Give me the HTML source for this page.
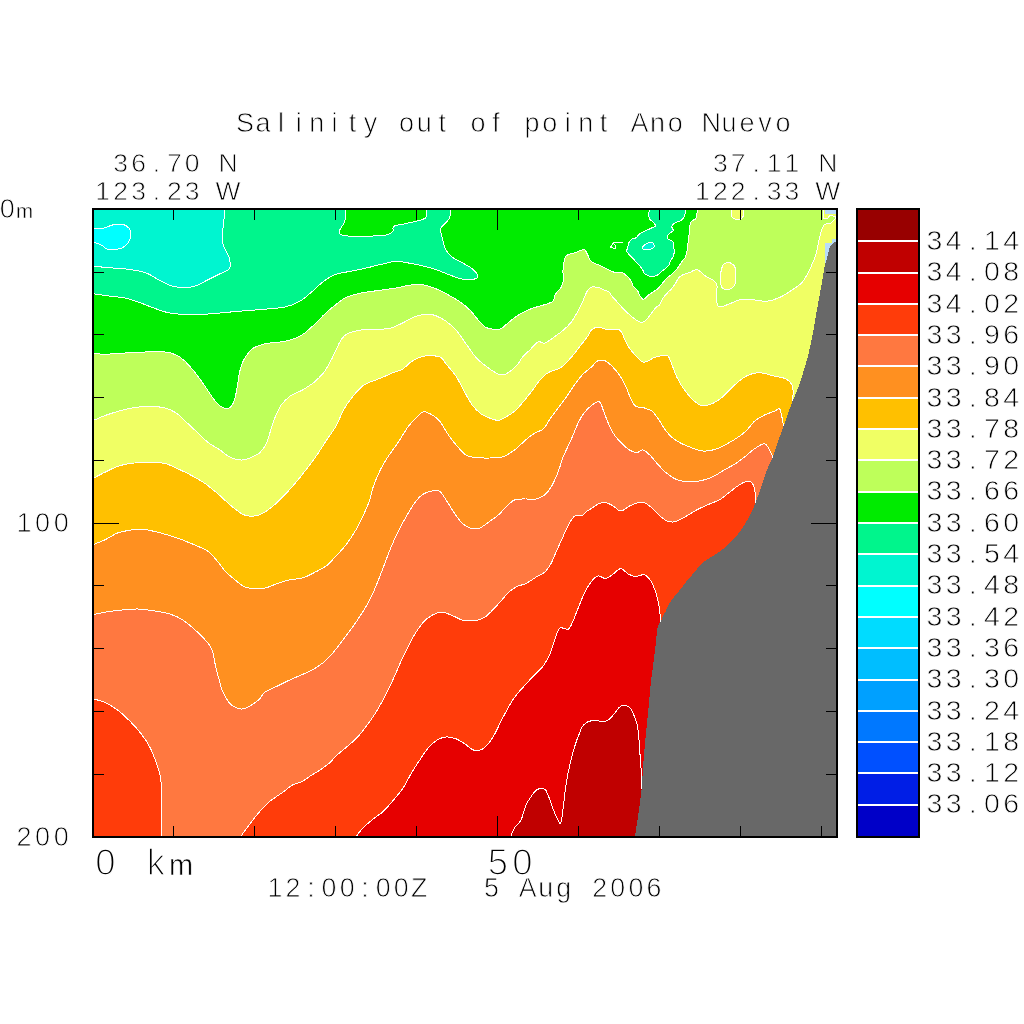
<!DOCTYPE html>
<html><head><meta charset="utf-8"><title>Salinity out of point Ano Nuevo</title>
<style>
html,body{margin:0;padding:0;background:#fff;}
body{width:1024px;height:1024px;overflow:hidden;}
svg{display:block;}
.t text{font-family:"Liberation Sans",sans-serif;fill:#000;text-anchor:middle;white-space:pre;stroke:#fff;stroke-width:0.8;}
</style></head><body>
<svg width="1024" height="1024" viewBox="0 0 1024 1024">
<rect width="1024" height="1024" fill="#fff"/>
<defs><clipPath id="pc"><rect x="94" y="210" width="742" height="626"/></clipPath></defs>
<rect x="94" y="210" width="742" height="626" fill="#00F5D0"/>
<g clip-path="url(#pc)" stroke="#fff" stroke-width="1" stroke-linejoin="round" shape-rendering="crispEdges">
<path d="M90.0 228.3C90.5 228.3 90.7 228.4 93.0 228.3C95.3 228.2 100.5 228.6 103.8 228.0C107.0 227.4 109.4 225.6 112.5 225.0C115.6 224.4 119.8 223.8 122.5 224.2C125.2 224.8 127.4 226.4 128.8 228.0C130.1 229.6 130.6 231.7 130.8 233.8C130.9 235.8 130.5 238.4 129.5 240.5C128.5 242.6 127.0 244.8 125.0 246.2C123.0 247.7 120.4 248.8 117.5 249.2C114.6 249.8 110.2 250.0 107.5 249.2C104.8 248.5 103.7 246.2 101.2 245.0C98.8 243.8 94.9 242.5 93.0 242.0C91.1 241.5 90.5 242.0 90.0 242.0Z" fill="#00FFFF"/>
<path d="M224.5 205.0C224.5 205.7 224.6 206.1 224.5 209.0C224.4 211.9 224.1 218.6 223.8 222.5C223.4 226.4 222.6 229.0 222.5 232.5C222.4 236.0 222.4 240.6 223.0 243.8C223.6 246.9 225.2 248.8 226.2 251.2C227.3 253.8 229.0 255.8 229.5 258.8C230.0 261.7 231.1 266.2 229.5 268.8C227.9 271.2 223.7 271.9 220.0 273.8C216.3 275.6 211.5 278.0 207.5 280.0C203.5 282.0 200.0 284.5 196.2 285.8C192.5 287.0 189.0 287.4 185.0 287.5C181.0 287.6 176.7 287.4 172.5 286.2C168.3 285.1 164.4 282.7 160.0 280.5C155.6 278.3 151.2 274.8 146.2 273.0C141.2 271.2 135.6 270.3 130.0 269.5C124.4 268.7 118.7 268.5 112.5 268.0C106.3 267.5 97.1 266.6 93.0 266.2C88.9 265.9 88.8 266.0 88.0 266.0L88.0 845.0L845.0 845.0L845.0 205.0Z" fill="#00F58C"/>
<path d="M88.0 293.5C88.8 293.5 89.8 293.4 93.0 293.8C96.2 294.1 102.2 295.0 107.5 295.8C112.8 296.5 120.0 297.0 125.0 298.0C130.0 299.0 132.9 300.2 137.5 301.8C142.1 303.3 147.5 305.7 152.5 307.5C157.5 309.3 162.1 311.3 167.5 312.5C172.9 313.7 178.8 314.2 185.0 314.5C191.2 314.8 198.3 314.6 205.0 314.2C211.7 313.9 218.3 313.1 225.0 312.5C231.7 311.9 238.3 311.3 245.0 310.8C251.7 310.2 258.3 309.9 265.0 309.2C271.7 308.6 279.2 308.3 285.0 307.0C290.8 305.7 295.4 303.9 300.0 301.2C304.6 298.6 308.5 294.6 312.5 291.2C316.5 287.9 319.8 284.1 323.8 281.2C327.7 278.4 331.5 275.9 336.0 274.2C340.5 272.6 345.6 272.4 351.0 271.2C356.4 270.1 363.1 268.8 368.5 267.5C373.9 266.2 378.9 264.8 383.5 263.8C388.1 262.7 391.8 261.4 396.0 261.2C400.2 261.1 404.3 262.3 408.5 263.0C412.7 263.7 416.4 264.4 421.0 265.5C425.6 266.6 431.4 268.0 436.0 269.5C440.6 271.0 444.3 273.0 448.5 274.5C452.7 276.0 457.0 277.9 461.0 278.8C465.0 279.6 469.5 279.9 472.2 279.5C475.0 279.1 477.8 278.0 477.8 276.2C477.8 274.5 475.0 271.1 472.2 268.8C469.5 266.4 464.5 264.1 461.0 262.0C457.5 259.9 453.7 258.7 451.0 256.2C448.3 253.8 446.2 250.6 444.8 247.5C443.3 244.4 443.0 240.6 442.2 237.5C441.5 234.4 439.9 231.2 440.5 228.8C441.1 226.2 444.5 224.4 446.0 222.5C447.5 220.6 449.0 219.8 449.8 217.5C450.5 215.2 450.2 211.1 450.2 209.0C450.3 206.9 450.2 205.7 450.2 205.0L845.0 205.0L845.0 845.0L88.0 845.0Z" fill="#00EB00"/>
<path d="M345.2 205.0C345.2 205.7 345.3 206.3 345.2 209.0C345.2 211.7 345.7 217.8 344.8 221.2C343.8 224.8 340.5 227.8 339.8 230.0C339.0 232.2 338.6 233.5 340.5 234.5C342.4 235.5 346.3 236.0 351.0 236.2C355.7 236.5 362.7 236.5 368.5 236.2C374.3 236.0 381.9 235.8 386.0 235.0C390.1 234.2 391.7 232.7 393.0 231.2C394.3 229.8 391.4 227.6 394.0 226.2C396.6 224.9 403.2 224.4 408.5 223.0C413.8 221.6 422.5 220.3 425.5 218.0C428.5 215.7 426.3 211.2 426.5 209.0C426.7 206.8 426.5 205.7 426.5 205.0Z" fill="#00EB00"/>
<path d="M649.3 205.0C649.3 205.8 649.4 208.3 649.3 209.9C649.2 211.5 648.5 213.2 648.6 214.8C648.7 216.4 649.0 218.0 649.8 219.2C650.6 220.4 652.2 221.0 653.2 222.1C654.2 223.2 655.7 225.0 655.5 226.0C655.3 227.0 653.4 227.1 651.8 227.9C650.2 228.7 647.9 229.7 645.9 230.6C643.9 231.5 641.6 232.3 640.0 233.5C638.4 234.7 637.5 236.8 636.1 237.7C634.7 238.6 633.0 238.3 631.7 239.2C630.4 240.1 629.1 241.8 628.5 243.3C627.9 244.8 628.1 246.7 627.8 248.0C627.5 249.3 626.4 249.8 626.6 250.9C626.9 252.0 628.0 253.3 629.3 254.8C630.6 256.3 632.6 258.2 634.2 259.9C635.8 261.6 637.6 263.4 639.1 265.1C640.6 266.9 642.1 269.0 643.0 270.4C643.9 271.8 643.6 272.6 644.4 273.4C645.2 274.2 646.7 274.7 647.9 275.3C649.1 275.9 650.3 276.8 651.8 276.8C653.3 276.8 655.6 276.0 657.1 275.3C658.6 274.6 659.1 273.5 660.5 272.4C661.9 271.3 664.0 269.7 665.4 268.5C666.8 267.3 667.9 266.5 668.8 265.1C669.7 263.7 670.1 261.6 670.8 260.2C671.5 258.8 672.6 258.2 673.2 256.8C673.8 255.4 674.1 253.7 674.2 251.9C674.3 250.1 673.9 247.7 673.7 246.0C673.5 244.3 673.7 242.7 672.8 241.6C671.9 240.5 669.3 240.1 668.4 239.2C667.5 238.3 667.0 237.3 667.2 236.3C667.4 235.3 668.8 234.3 669.8 233.3C670.8 232.3 672.9 231.5 673.2 230.4C673.5 229.3 671.5 227.8 671.8 226.5C672.1 225.2 673.8 223.5 675.2 222.6C676.6 221.7 678.6 222.0 680.1 221.1C681.6 220.2 683.1 219.1 684.0 217.2C684.9 215.3 685.4 211.9 685.7 209.9C686.0 207.9 685.7 205.8 685.7 205.0Z" fill="#00F58C"/>
<path d="M642.5 247.0C642.8 246.1 644.5 244.9 645.9 244.1C647.3 243.3 649.6 242.6 650.8 242.4C652.0 242.2 652.6 242.3 653.2 243.1C653.8 243.9 654.6 246.0 654.2 247.0C653.8 248.0 652.5 248.6 650.8 249.0C649.1 249.4 645.4 249.7 644.0 249.4C642.6 249.1 642.2 247.9 642.5 247.0Z" fill="#00F5D0"/>
<path d="M88.0 353.0C88.8 353.0 90.2 353.0 93.0 353.2C95.8 353.5 99.7 354.3 105.0 354.2C110.3 354.2 118.3 353.4 125.0 353.0C131.7 352.6 138.3 352.2 145.0 352.0C151.7 351.8 159.8 351.5 165.0 352.0C170.2 352.5 172.9 353.5 176.2 355.0C179.6 356.5 181.9 358.3 185.0 361.2C188.1 364.2 191.7 368.3 195.0 372.5C198.3 376.7 201.7 381.5 205.0 386.2C208.3 391.0 212.1 397.2 215.0 400.8C217.9 404.3 220.0 406.4 222.5 407.5C225.0 408.6 228.0 408.8 230.0 407.5C232.0 406.2 233.2 403.8 234.5 400.0C235.8 396.2 236.7 389.6 237.5 385.0C238.3 380.4 238.5 376.7 239.5 372.5C240.5 368.3 241.6 364.0 243.8 360.0C245.9 356.0 249.0 351.5 252.5 348.8C256.0 346.0 259.6 345.0 265.0 343.8C270.4 342.5 279.2 342.5 285.0 341.2C290.8 340.0 295.4 338.8 300.0 336.2C304.6 333.8 308.3 330.0 312.5 326.2C316.7 322.5 321.1 317.4 325.0 313.8C328.9 310.1 332.5 307.2 336.0 304.5C339.5 301.8 341.8 299.4 346.0 297.5C350.2 295.6 355.6 294.2 361.0 293.0C366.4 291.8 372.7 291.3 378.5 290.5C384.3 289.7 390.6 288.9 396.0 288.0C401.4 287.1 406.4 285.5 411.0 285.0C415.6 284.5 419.3 284.4 423.5 285.0C427.7 285.6 431.8 287.1 436.0 288.8C440.2 290.4 444.3 292.7 448.5 295.0C452.7 297.3 457.2 299.8 461.0 302.5C464.8 305.2 467.9 308.0 471.0 311.2C474.1 314.5 477.2 319.3 479.8 322.0C482.2 324.7 483.7 326.3 486.0 327.5C488.3 328.7 491.0 329.0 493.5 329.2C496.0 329.5 498.5 329.9 501.0 328.8C503.5 327.6 505.6 324.8 508.5 322.5C511.4 320.2 514.8 317.3 518.5 315.0C522.2 312.7 526.8 310.4 531.0 308.8C535.2 307.1 539.8 306.2 543.5 305.0C547.2 303.8 551.1 302.9 553.0 301.2C554.9 299.6 553.4 297.3 554.8 295.0C556.1 292.7 559.5 290.0 561.0 287.5C562.5 285.0 563.2 282.9 563.5 280.0C563.8 277.1 562.6 274.0 563.0 270.0C563.4 266.0 563.8 259.2 566.0 256.2C568.2 253.3 573.0 253.6 576.0 252.5C579.0 251.4 582.1 249.3 584.0 249.5C585.9 249.7 586.1 251.8 587.2 253.8C588.4 255.7 588.9 259.3 591.0 261.2C593.1 263.2 597.4 264.2 600.0 265.5C602.6 266.8 604.4 267.9 606.8 269.0C609.2 270.1 612.1 271.8 614.6 272.4C617.1 273.0 619.3 271.7 621.5 272.4C623.7 273.1 626.1 275.2 627.8 276.8C629.5 278.4 630.8 280.6 631.7 282.1C632.6 283.7 632.2 284.6 633.2 286.1C634.2 287.6 636.5 289.3 637.6 290.9C638.7 292.5 639.0 294.4 640.0 295.8C641.0 297.2 642.0 299.7 643.5 299.5C645.0 299.3 646.9 296.2 648.8 294.8C650.7 293.4 653.1 292.0 654.7 290.9C656.3 289.8 657.3 289.3 658.6 288.0C659.9 286.7 661.0 284.8 662.5 283.1C664.0 281.4 665.6 279.5 667.4 277.8C669.2 276.1 671.4 274.6 673.2 272.9C675.0 271.2 676.8 269.2 678.1 267.5C679.4 265.8 680.0 264.2 681.1 262.6C682.2 261.0 684.0 259.5 685.0 257.7C686.0 255.9 686.4 254.2 686.9 251.9C687.4 249.6 687.6 246.7 687.9 244.1C688.2 241.5 688.6 238.8 688.9 236.3C689.1 233.9 689.2 231.5 689.4 229.4C689.6 227.3 689.8 225.1 690.3 223.6C690.8 222.1 691.4 221.4 692.3 220.6C693.2 219.8 695.0 219.8 695.7 218.7C696.4 217.6 696.4 215.3 696.7 213.8C697.0 212.3 697.5 211.4 697.7 209.9C697.9 208.4 697.7 205.8 697.7 205.0L845.0 205.0L845.0 845.0L88.0 845.0Z" fill="#BEFF5A"/>
<path d="M88.0 421.0C88.8 420.9 90.2 421.4 93.0 420.5C95.8 419.6 100.5 417.1 105.0 415.5C109.5 413.9 115.0 412.1 120.0 410.8C125.0 409.4 130.0 408.2 135.0 407.5C140.0 406.8 145.0 406.2 150.0 406.2C155.0 406.3 160.6 406.9 165.0 408.0C169.4 409.1 172.5 410.5 176.2 413.0C180.0 415.5 183.8 419.8 187.5 423.2C191.2 426.7 195.2 430.5 198.8 433.8C202.3 437.0 205.2 440.3 208.8 443.0C212.3 445.7 216.8 447.8 220.0 450.0C223.2 452.2 225.5 454.5 228.0 456.0C230.5 457.5 232.7 458.3 235.0 459.0C237.3 459.7 239.5 460.2 242.0 460.0C244.5 459.8 247.7 458.8 250.0 458.0C252.3 457.2 254.3 455.9 256.0 455.0C257.7 454.1 258.3 454.4 260.0 452.5C261.7 450.6 264.6 447.1 266.2 443.8C267.9 440.4 268.5 436.9 270.0 432.5C271.5 428.1 273.1 422.1 275.0 417.5C276.9 412.9 278.8 408.5 281.2 405.0C283.8 401.5 286.5 398.8 290.0 396.2C293.5 393.8 298.5 392.3 302.5 390.0C306.5 387.7 310.2 385.4 313.8 382.5C317.3 379.6 320.8 376.2 323.8 372.5C326.7 368.8 329.2 363.8 331.2 360.0C333.3 356.2 334.4 353.3 336.0 350.0C337.6 346.7 339.1 342.7 341.0 340.0C342.9 337.3 343.9 335.4 347.2 333.8C350.6 332.1 356.2 330.7 361.0 330.0C365.8 329.3 371.0 329.8 376.0 329.5C381.0 329.2 386.4 329.2 391.0 328.0C395.6 326.8 399.3 324.5 403.5 322.5C407.7 320.5 411.8 317.6 416.0 316.2C420.2 314.9 425.2 314.3 428.5 314.2C431.8 314.2 433.1 314.6 436.0 315.8C438.9 316.9 442.7 318.9 446.0 321.2C449.3 323.6 452.7 326.2 456.0 330.0C459.3 333.8 462.7 339.2 466.0 343.8C469.3 348.3 472.7 353.8 476.0 357.5C479.3 361.2 482.7 363.7 486.0 366.2C489.3 368.8 493.3 371.5 496.0 373.0C498.7 374.5 500.2 375.1 502.2 375.0C504.3 374.9 506.0 374.2 508.5 372.5C511.0 370.8 515.0 367.5 517.2 365.0C519.5 362.5 520.2 360.0 522.2 357.5C524.3 355.0 527.1 352.6 529.8 350.0C532.4 347.4 535.5 343.2 538.0 342.0C540.5 340.8 542.2 343.8 544.8 343.0C547.3 342.2 550.4 339.7 553.5 337.5C556.6 335.3 560.6 332.5 563.5 330.0C566.4 327.5 568.7 325.4 571.0 322.5C573.3 319.6 575.4 315.8 577.2 312.5C579.1 309.2 580.6 306.0 582.2 302.5C583.9 299.0 585.6 293.8 587.2 291.2C588.9 288.7 589.9 287.5 592.0 287.0C594.1 286.5 598.0 287.5 600.0 288.0C602.0 288.5 602.4 289.4 603.9 290.0C605.4 290.6 607.5 290.9 608.8 291.9C610.1 292.9 610.6 294.4 611.7 295.8C612.8 297.2 614.3 298.7 615.6 300.2C616.9 301.7 618.0 303.0 619.5 304.6C621.0 306.2 622.0 307.6 624.5 310.0C627.0 312.4 631.6 316.7 634.5 318.8C637.4 320.8 639.7 322.7 642.0 322.5C644.3 322.3 646.0 320.0 648.2 317.5C650.5 315.0 653.9 309.6 655.8 307.5C657.6 305.4 658.5 306.5 659.6 305.0C660.7 303.5 661.2 300.8 662.5 298.8C663.8 296.7 665.8 294.7 667.4 292.9C669.0 291.1 670.8 289.8 672.3 288.0C673.8 286.2 675.1 283.9 676.2 282.1C677.3 280.3 677.8 278.6 679.1 277.3C680.4 276.0 682.2 275.1 684.0 274.3C685.8 273.5 688.2 273.0 689.8 272.4C691.4 271.8 692.6 270.9 693.8 270.4C694.9 269.9 695.7 269.3 696.7 269.5C697.7 269.7 698.5 270.3 700.0 271.4C701.5 272.5 703.3 274.6 705.8 276.2C708.2 277.9 712.6 279.6 714.5 281.2C716.4 282.9 716.7 283.1 717.0 286.2C717.3 289.4 716.1 296.5 716.5 300.0C716.9 303.5 717.3 306.4 719.5 307.0C721.7 307.6 725.8 305.0 729.5 303.8C733.2 302.5 737.8 299.9 742.0 299.2C746.2 298.6 750.3 299.7 754.5 300.0C758.7 300.3 762.8 301.7 767.0 301.2C771.2 300.8 775.3 299.4 779.5 297.5C783.7 295.6 788.2 292.5 792.0 290.0C795.8 287.5 799.3 285.4 802.0 282.5C804.7 279.6 806.4 275.9 808.2 272.5C810.1 269.1 811.8 264.8 813.0 262.0C814.2 259.2 814.8 258.3 815.5 256.0C816.2 253.7 816.9 250.7 817.5 248.0C818.1 245.3 818.5 242.3 819.0 240.0C819.5 237.7 819.9 236.0 820.5 234.0C821.1 232.0 821.8 229.6 822.5 228.0C823.2 226.4 823.6 225.2 824.5 224.5C825.4 223.8 826.9 224.1 828.0 223.8C829.1 223.6 829.8 223.9 831.0 223.0C832.2 222.1 834.8 219.5 835.5 218.5C836.2 217.5 835.9 217.4 835.5 217.0C835.1 216.6 833.7 216.3 833.0 216.0C832.3 215.7 832.1 215.3 831.5 215.3C830.9 215.3 830.2 215.5 829.5 216.0C828.8 216.5 828.0 218.2 827.0 218.5C826.0 218.8 824.1 219.4 823.5 218.0C822.9 216.6 823.5 212.2 823.5 210.0C823.5 207.8 823.5 205.8 823.5 205.0L845.0 205.0L845.0 845.0L88.0 845.0Z" fill="#F0FF64"/>
<path d="M720.8 272.5C721.2 270.0 722.0 266.7 723.2 265.0C724.5 263.3 726.4 262.3 728.2 262.5C730.1 262.7 733.2 264.2 734.5 266.2C735.8 268.3 735.8 271.9 735.8 275.0C735.8 278.1 735.8 282.6 734.5 285.0C733.2 287.4 730.3 289.1 728.2 289.5C726.2 289.9 723.3 289.1 722.0 287.5C720.7 285.9 720.5 282.5 720.2 280.0C720.0 277.5 720.2 275.0 720.8 272.5Z" fill="#F0FF64"/>
<path d="M731.5 205.0C731.5 206.8 731.1 213.7 731.5 216.0C731.9 218.3 732.4 218.3 734.0 218.8C735.6 219.2 739.5 219.2 741.0 218.8C742.5 218.3 742.9 218.3 743.2 216.0C743.6 213.7 743.2 206.8 743.2 205.0Z" fill="#F0FF64"/>
<path d="M88.0 481.0C88.8 480.6 90.2 480.0 93.0 478.5C95.8 477.0 100.9 474.2 105.0 472.2C109.1 470.2 113.3 468.0 117.5 466.5C121.7 465.0 125.0 464.2 130.0 463.5C135.0 462.8 141.7 462.2 147.5 462.2C153.3 462.2 159.6 462.2 165.0 463.5C170.4 464.8 175.4 467.7 180.0 469.8C184.6 471.8 188.3 473.7 192.5 476.0C196.7 478.3 200.8 480.6 205.0 483.5C209.2 486.4 213.3 490.0 217.5 493.5C221.7 497.0 225.6 501.2 230.0 504.8C234.4 508.3 239.2 513.0 243.8 514.8C248.3 516.5 253.1 516.5 257.5 515.5C261.9 514.5 265.8 511.5 270.0 508.5C274.2 505.5 278.3 501.4 282.5 497.2C286.7 493.1 291.2 487.9 295.0 483.5C298.8 479.1 301.5 475.6 305.0 471.0C308.5 466.4 312.8 461.0 316.2 456.0C319.8 451.0 322.7 446.0 326.0 441.0C329.3 436.0 333.1 431.2 336.0 426.0C338.9 420.8 341.0 414.5 343.5 410.0C346.0 405.5 348.3 402.3 351.0 398.8C353.7 395.2 357.2 391.2 359.8 388.8C362.2 386.2 362.5 385.5 366.0 383.8C369.5 382.0 376.4 379.9 381.0 378.0C385.6 376.1 390.0 373.9 393.5 372.5C397.0 371.1 399.3 371.2 402.2 369.5C405.2 367.8 407.5 364.2 411.0 362.0C414.5 359.8 418.7 357.1 423.5 356.2C428.3 355.4 436.0 355.8 439.8 357.0C443.5 358.2 443.3 360.5 446.0 363.8C448.7 367.0 453.1 371.9 456.0 376.2C458.9 380.6 460.8 385.2 463.5 390.0C466.2 394.8 469.3 401.0 472.2 405.0C475.2 409.0 477.5 411.3 481.0 413.8C484.5 416.2 490.4 418.5 493.5 419.5C496.6 420.5 497.2 420.7 499.8 420.0C502.2 419.3 505.8 417.2 508.5 415.5C511.2 413.8 513.3 412.6 516.0 410.0C518.7 407.4 521.8 403.5 524.8 400.0C527.7 396.5 530.8 392.3 533.5 388.8C536.2 385.2 538.5 381.5 541.0 378.8C543.5 376.0 545.2 374.4 548.5 372.5C551.8 370.6 557.0 370.2 561.0 367.5C565.0 364.8 568.9 360.0 572.2 356.2C575.6 352.5 578.3 348.5 581.0 345.0C583.7 341.5 586.7 337.6 588.5 335.0C590.3 332.4 590.4 330.8 592.0 329.5C593.6 328.2 595.8 327.0 598.2 327.0C600.8 327.0 603.5 329.0 607.0 329.5C610.5 330.0 616.6 328.5 619.5 330.0C622.4 331.5 622.6 335.4 624.5 338.8C626.4 342.1 627.6 346.1 630.8 350.0C633.9 353.9 639.3 360.8 643.2 362.0C647.2 363.2 650.5 358.6 654.5 357.5C658.5 356.4 664.1 354.2 667.0 355.5C669.9 356.8 670.3 361.3 672.0 365.0C673.7 368.7 674.9 373.3 677.0 377.5C679.1 381.7 681.6 386.0 684.5 390.0C687.4 394.0 691.6 398.7 694.5 401.2C697.4 403.8 699.1 405.1 702.0 405.5C704.9 405.9 708.7 405.1 712.0 403.8C715.3 402.4 718.7 400.2 722.0 397.5C725.3 394.8 728.7 390.6 732.0 387.5C735.3 384.4 738.7 381.0 742.0 378.8C745.3 376.5 748.7 374.7 752.0 373.8C755.3 372.8 758.2 372.6 762.0 373.0C765.8 373.4 770.5 375.3 774.5 376.2C778.5 377.2 782.8 377.3 785.8 378.8C788.7 380.2 790.8 382.7 792.0 385.0C793.2 387.3 793.2 390.3 793.2 392.5C793.3 394.7 792.7 396.1 792.5 398.0C792.3 399.9 792.1 403.0 792.0 404.0L845.0 404.0L845.0 845.0L88.0 845.0Z" fill="#FFC000"/>
<path d="M88.0 547.0C88.8 546.6 90.2 546.0 93.0 544.8C95.8 543.5 100.9 541.7 105.0 539.8C109.1 537.8 113.3 534.6 117.5 533.0C121.7 531.4 125.8 530.9 130.0 530.2C134.2 529.6 137.9 528.9 142.5 529.2C147.1 529.6 152.1 530.9 157.5 532.2C162.9 533.6 169.2 535.3 175.0 537.2C180.8 539.2 187.1 541.7 192.5 544.0C197.9 546.3 203.5 548.4 207.5 551.0C211.5 553.6 213.3 556.4 216.2 559.8C219.2 563.1 221.9 567.7 225.0 571.0C228.1 574.3 231.9 577.2 235.0 579.8C238.1 582.3 240.8 585.0 243.8 586.5C246.7 588.0 249.0 588.2 252.5 588.5C256.0 588.8 260.8 588.8 265.0 588.0C269.2 587.2 273.3 584.9 277.5 583.5C281.7 582.1 285.8 580.7 290.0 579.8C294.2 578.8 298.3 579.2 302.5 578.0C306.7 576.8 311.0 574.2 315.0 572.2C319.0 570.2 322.8 568.7 326.2 566.0C329.8 563.3 332.7 559.5 336.0 556.0C339.3 552.5 342.7 549.1 346.0 544.8C349.3 540.4 353.1 534.8 356.0 529.8C358.9 524.8 361.2 519.8 363.5 514.8C365.8 509.8 368.1 504.5 369.8 499.8C371.4 495.0 371.8 490.8 373.5 486.0C375.2 481.2 377.2 476.0 379.8 471.0C382.2 466.0 385.6 460.5 388.5 456.0C391.4 451.5 393.9 448.7 397.2 443.8C400.6 438.8 405.2 430.7 408.5 426.2C411.8 421.8 414.8 419.4 417.2 417.0C419.8 414.6 421.0 412.1 423.5 411.8C426.0 411.4 429.5 413.4 432.2 415.0C435.0 416.6 437.0 417.9 439.8 421.2C442.5 424.6 445.6 430.8 448.5 435.0C451.4 439.2 454.3 442.9 457.2 446.2C460.2 449.6 463.0 453.1 466.0 455.0C469.0 456.9 471.0 457.0 475.0 457.5C479.0 458.0 485.5 458.1 490.0 458.0C494.5 457.9 499.2 457.5 502.0 457.0C504.8 456.5 504.7 456.4 507.0 455.0C509.3 453.6 512.4 451.7 516.0 448.8C519.6 445.8 525.2 440.2 528.5 437.5C531.8 434.8 533.5 434.0 536.0 432.5C538.5 431.0 541.0 431.2 543.5 428.8C546.0 426.2 548.5 421.0 551.0 417.5C553.5 414.0 556.0 410.8 558.5 407.5C561.0 404.2 563.5 401.0 566.0 397.5C568.5 394.0 570.8 390.0 573.5 386.2C576.2 382.5 579.2 378.3 582.2 375.0C585.3 371.7 589.5 368.8 592.0 366.5C594.5 364.2 594.9 362.2 597.0 361.2C599.1 360.2 602.0 359.7 604.5 360.5C607.0 361.3 609.5 363.8 612.0 366.2C614.5 368.7 617.2 371.7 619.5 375.0C621.8 378.3 623.9 382.3 625.8 386.2C627.6 390.2 629.1 395.4 630.8 398.8C632.4 402.1 633.5 404.7 635.8 406.2C638.0 407.8 641.8 407.2 644.5 408.0C647.2 408.8 649.7 409.5 652.0 411.2C654.3 413.0 656.2 415.8 658.2 418.8C660.3 421.7 662.2 425.6 664.5 428.8C666.8 431.9 669.1 435.0 672.0 437.5C674.9 440.0 678.2 441.9 682.0 443.8C685.8 445.6 690.8 447.5 694.5 448.8C698.2 450.0 700.8 451.2 704.5 451.2C708.2 451.2 712.8 450.2 717.0 448.8C721.2 447.3 725.8 444.6 729.5 442.5C733.2 440.4 736.6 438.3 739.5 436.2C742.4 434.2 744.5 432.5 747.0 430.0C749.5 427.5 751.6 423.8 754.5 421.2C757.4 418.8 761.2 416.7 764.5 415.0C767.8 413.3 772.0 412.3 774.5 411.2C777.0 410.2 778.2 407.7 779.5 408.8C780.8 409.8 781.4 414.8 782.0 417.5C782.6 420.2 783.1 422.9 783.2 425.0C783.4 427.1 783.0 429.2 783.0 430.0L845.0 430.0L845.0 845.0L88.0 845.0Z" fill="#FF9020"/>
<path d="M88.0 616.0C88.8 615.8 90.2 615.4 93.0 614.8C95.8 614.1 100.5 613.0 105.0 612.2C109.5 611.5 114.6 610.8 120.0 610.2C125.4 609.7 131.7 608.9 137.5 609.0C143.3 609.1 149.6 610.2 155.0 611.0C160.4 611.8 165.4 612.5 170.0 614.0C174.6 615.5 178.3 617.1 182.5 619.8C186.7 622.4 191.0 626.2 195.0 629.8C199.0 633.3 203.4 637.7 206.2 641.0C209.1 644.3 210.5 646.0 212.0 649.8C213.5 653.5 213.9 658.7 215.0 663.5C216.1 668.3 217.5 673.9 218.8 678.5C220.0 683.1 220.8 687.0 222.5 691.0C224.2 695.0 226.7 699.5 228.8 702.2C230.8 705.0 232.7 706.1 235.0 707.2C237.3 708.4 240.0 709.2 242.5 709.0C245.0 708.8 247.3 707.5 250.0 706.0C252.7 704.5 256.2 702.0 258.8 699.8C261.2 697.5 262.3 694.3 265.0 692.2C267.7 690.2 271.2 689.1 275.0 687.2C278.8 685.4 283.3 683.0 287.5 681.0C291.7 679.0 295.8 677.4 300.0 675.5C304.2 673.6 308.5 672.0 312.5 669.8C316.5 667.5 320.6 664.8 323.8 662.2C326.9 659.8 329.2 657.0 331.2 654.8C333.3 652.5 333.5 652.1 336.0 649.0C338.5 645.9 342.7 640.5 346.0 636.0C349.3 631.5 352.9 626.8 356.0 622.2C359.1 617.7 362.0 613.1 364.8 608.5C367.5 603.9 370.0 599.5 372.2 594.8C374.5 590.0 376.4 585.0 378.5 579.8C380.6 574.5 382.7 568.9 384.8 563.5C386.8 558.1 388.7 552.7 391.0 547.2C393.3 541.8 395.8 536.4 398.5 531.0C401.2 525.6 404.3 519.8 407.2 514.8C410.2 509.8 413.3 504.5 416.0 501.0C418.7 497.5 420.8 495.7 423.5 494.0C426.2 492.3 429.5 491.4 432.2 491.0C435.0 490.6 437.5 490.0 439.8 491.5C442.0 493.0 443.9 496.7 446.0 499.8C448.1 502.8 450.0 506.3 452.2 509.8C454.5 513.2 457.5 517.8 459.8 520.5C462.0 523.2 463.9 524.7 466.0 526.0C468.1 527.3 470.0 528.2 472.2 528.5C474.5 528.8 477.0 529.0 479.8 528.0C482.5 527.0 485.4 524.5 488.5 522.2C491.6 520.0 495.4 517.5 498.5 514.8C501.6 512.0 504.5 508.5 507.2 506.0C510.0 503.5 511.6 500.9 514.8 499.8C517.9 498.6 522.5 499.1 526.0 499.0C529.5 498.9 532.9 499.7 536.0 499.0C539.1 498.3 542.2 496.7 544.8 494.8C547.2 492.8 549.1 490.2 551.0 487.2C552.9 484.3 554.5 480.6 556.0 477.2C557.5 473.9 558.5 470.8 559.8 467.2C561.0 463.7 561.6 460.5 563.5 456.0C565.4 451.5 568.7 445.2 571.0 440.0C573.3 434.8 575.2 429.4 577.2 425.0C579.3 420.6 581.0 417.1 583.5 413.8C586.0 410.4 589.3 407.0 592.0 405.0C594.7 403.0 597.6 401.2 599.5 402.0C601.4 402.8 602.0 407.0 603.2 410.0C604.5 413.0 605.5 416.5 607.0 420.0C608.5 423.5 609.9 427.7 612.0 431.2C614.1 434.8 616.6 438.1 619.5 441.2C622.4 444.4 626.6 448.1 629.5 450.0C632.4 451.9 634.7 452.5 637.0 452.5C639.3 452.5 641.0 449.4 643.2 450.0C645.5 450.6 648.2 453.5 650.8 456.0C653.2 458.5 655.5 461.8 658.2 464.8C661.0 467.7 663.9 471.0 667.0 473.5C670.1 476.0 673.5 478.4 677.0 479.8C680.5 481.1 684.5 481.5 688.2 481.8C692.0 482.0 695.5 481.8 699.5 481.0C703.5 480.2 707.8 479.1 712.0 477.2C716.2 475.4 720.5 472.0 724.5 469.8C728.5 467.5 732.2 465.8 735.8 463.5C739.3 461.2 742.6 458.5 745.8 456.0C748.9 453.5 751.4 450.8 754.5 448.8C757.6 446.7 762.0 443.5 764.5 443.8C767.0 444.0 768.2 448.0 769.5 450.0C770.8 452.0 771.9 454.3 772.5 456.0C773.1 457.7 772.9 459.3 773.0 460.0L845.0 460.0L845.0 845.0L88.0 845.0Z" fill="#FF7840"/>
<path d="M88.0 698.0C88.8 698.1 90.2 698.0 93.0 698.8C95.8 699.5 100.9 700.6 105.0 702.5C109.1 704.4 113.3 706.9 117.5 710.0C121.7 713.1 126.0 717.3 130.0 721.2C134.0 725.2 137.9 729.4 141.2 733.8C144.6 738.1 147.5 742.7 150.0 747.5C152.5 752.3 154.6 757.9 156.2 762.5C157.9 767.1 159.2 770.8 160.0 775.0C160.8 779.2 161.0 777.2 161.2 787.5C161.5 797.8 161.2 826.9 161.2 836.5C161.2 846.1 161.2 843.6 161.2 845.0L88.0 845.0Z" fill="#FF3C0A"/>
<path d="M241.2 845.0C241.2 843.6 239.8 840.0 241.2 836.5C242.7 833.0 246.9 828.0 250.0 823.8C253.1 819.5 256.7 815.0 260.0 811.2C263.3 807.5 266.2 804.4 270.0 801.2C273.8 798.1 278.8 795.2 282.5 792.5C286.2 789.8 289.4 786.8 292.5 785.0C295.6 783.2 298.3 783.5 301.2 782.0C304.2 780.5 306.9 778.2 310.0 776.2C313.1 774.2 316.7 772.3 320.0 770.0C323.3 767.7 327.3 764.8 330.0 762.5C332.7 760.2 333.3 758.5 336.0 756.0C338.7 753.5 342.5 750.6 346.0 747.5C349.5 744.4 353.7 741.2 357.2 737.5C360.8 733.8 364.1 729.2 367.2 725.0C370.4 720.8 373.1 717.0 376.0 712.2C378.9 707.5 381.8 702.1 384.8 696.5C387.7 690.9 390.6 684.8 393.5 678.5C396.4 672.2 399.3 664.8 402.2 658.5C405.2 652.2 408.3 646.0 411.0 641.0C413.7 636.0 415.8 632.2 418.5 628.5C421.2 624.8 423.7 621.2 427.2 618.5C430.8 615.8 436.2 613.0 439.8 612.2C443.3 611.5 445.8 613.2 448.5 614.0C451.2 614.8 453.5 616.2 456.0 617.2C458.5 618.3 460.2 620.0 463.5 620.5C466.8 621.0 472.5 621.0 476.0 620.5C479.5 620.0 482.0 618.9 484.8 617.2C487.5 615.6 489.5 613.2 492.2 610.5C495.0 607.8 498.3 604.0 501.0 601.0C503.7 598.0 505.8 594.7 508.5 592.2C511.2 589.8 514.3 588.0 517.2 586.5C520.2 585.0 522.9 585.0 526.0 583.5C529.1 582.0 532.9 579.1 536.0 577.2C539.1 575.4 542.2 574.5 544.8 572.2C547.2 570.0 549.1 566.8 551.0 563.5C552.9 560.2 554.1 556.4 556.0 552.2C557.9 548.1 560.2 543.1 562.2 538.5C564.3 533.9 566.4 528.5 568.5 524.8C570.6 521.0 572.5 517.5 574.8 516.0C577.0 514.5 580.2 516.3 582.2 515.5C584.3 514.7 585.6 512.2 587.2 511.0C588.9 509.8 590.2 509.4 592.0 508.2C593.8 507.1 596.0 504.9 598.2 504.0C600.5 503.1 603.2 502.4 605.8 502.8C608.2 503.1 610.8 504.6 613.2 506.0C615.8 507.4 618.0 511.0 620.8 511.0C623.5 511.0 626.8 507.3 629.5 506.0C632.2 504.7 634.5 503.5 637.0 503.0C639.5 502.5 642.0 501.9 644.5 502.8C647.0 503.6 649.5 505.9 652.0 508.0C654.5 510.1 657.0 513.3 659.5 515.5C662.0 517.7 664.5 520.0 667.0 521.0C669.5 522.0 671.6 522.4 674.5 521.8C677.4 521.1 680.8 519.2 684.5 517.2C688.2 515.2 692.8 512.0 697.0 509.8C701.2 507.5 705.8 505.7 709.5 504.0C713.2 502.3 716.2 501.7 719.5 499.8C722.8 497.8 726.2 494.8 729.5 492.2C732.8 489.8 736.4 486.6 739.5 484.8C742.6 482.9 746.0 481.0 748.2 481.0C750.5 481.0 752.1 482.9 753.2 484.8C754.4 486.6 754.7 489.3 755.0 492.2C755.3 495.2 755.0 500.0 755.0 502.2C755.0 504.5 755.0 505.4 755.0 506.0L845.0 506.0L845.0 845.0Z" fill="#FF3C0A"/>
<path d="M356.5 845.0C356.5 843.6 355.3 839.4 356.5 836.5C357.7 833.6 360.7 830.5 363.5 827.5C366.3 824.5 370.2 821.5 373.5 818.8C376.8 816.0 380.2 814.4 383.5 811.2C386.8 808.1 390.2 804.0 393.5 800.0C396.8 796.0 400.6 791.9 403.5 787.5C406.4 783.1 408.3 778.3 411.0 773.8C413.7 769.2 416.8 764.4 419.8 760.0C422.7 755.6 425.6 750.8 428.5 747.5C431.4 744.2 434.3 741.8 437.2 740.0C440.2 738.2 442.9 737.2 446.0 737.0C449.1 736.8 452.9 737.6 456.0 738.8C459.1 739.9 462.0 742.0 464.8 743.8C467.5 745.5 470.0 748.3 472.2 749.5C474.5 750.7 476.2 751.3 478.5 750.8C480.8 750.2 483.5 748.7 486.0 746.2C488.5 743.8 491.0 740.4 493.5 736.2C496.0 732.1 498.7 725.7 501.0 721.2C503.3 716.8 505.0 713.5 507.2 709.5C509.5 705.5 512.0 700.8 514.8 697.0C517.5 693.2 520.4 690.2 523.5 686.8C526.6 683.2 530.4 679.2 533.5 676.0C536.6 672.8 539.8 670.4 542.2 667.2C544.8 664.1 546.8 660.6 548.5 657.2C550.2 653.9 551.0 650.8 552.2 647.2C553.5 643.7 554.7 639.2 556.0 636.0C557.3 632.8 558.2 629.2 560.2 628.0C562.3 626.8 566.3 630.4 568.5 629.0C570.7 627.6 571.8 623.4 573.5 619.8C575.2 616.1 576.6 611.8 578.5 607.2C580.4 602.7 582.5 596.7 584.8 592.2C587.0 587.8 589.8 583.5 592.0 580.8C594.2 578.0 596.0 576.4 598.2 576.0C600.5 575.6 603.2 578.8 605.8 578.5C608.2 578.2 610.8 575.7 613.2 574.0C615.8 572.3 618.2 568.5 620.8 568.5C623.2 568.5 625.8 572.7 628.2 574.0C630.8 575.3 633.0 576.4 635.8 576.5C638.5 576.6 642.0 574.0 644.5 574.8C647.0 575.5 648.9 578.1 650.8 581.0C652.6 583.9 654.4 588.1 655.8 592.2C657.1 596.4 658.2 601.2 659.0 606.0C659.8 610.8 660.4 617.7 660.8 621.0C661.1 624.3 661.0 625.2 661.0 626.0L845.0 626.0L845.0 845.0Z" fill="#E60000"/>
<path d="M511.0 845.0C511.0 843.6 510.4 839.4 511.0 836.5C511.6 833.6 513.1 830.2 514.8 827.5C516.4 824.8 519.1 823.8 521.0 820.0C522.9 816.2 524.1 809.2 526.0 805.0C527.9 800.8 530.4 797.6 532.2 795.0C534.1 792.4 535.2 790.5 537.2 789.5C539.3 788.5 542.9 788.1 544.8 789.2C546.6 790.4 547.0 792.8 548.5 796.2C550.0 799.7 551.8 805.8 553.5 810.0C555.2 814.2 557.2 819.2 558.5 821.2C559.8 823.3 560.2 825.2 561.0 822.5C561.8 819.8 562.7 811.2 563.5 805.0C564.3 798.8 565.0 791.7 566.0 785.0C567.0 778.3 568.3 771.5 569.8 765.0C571.2 758.5 573.1 751.7 574.8 746.2C576.4 740.8 578.3 736.0 579.8 732.5C581.2 729.0 581.5 727.0 583.5 725.0C585.5 723.0 588.3 721.1 592.0 720.5C595.7 719.9 602.2 722.2 605.8 721.2C609.3 720.3 610.8 717.5 613.2 715.0C615.8 712.5 618.1 707.6 620.8 706.2C623.4 704.9 626.9 705.8 629.0 707.0C631.1 708.2 631.9 711.0 633.2 713.8C634.6 716.5 636.0 719.4 637.0 723.8C638.0 728.1 638.5 734.4 639.0 740.0C639.5 745.6 639.8 751.7 640.2 757.5C640.7 763.3 641.2 769.8 641.5 775.0C641.8 780.2 641.9 785.4 642.0 788.8C642.1 792.1 642.0 794.0 642.0 795.0L845.0 795.0L845.0 845.0Z" fill="#C00000"/>
<path d="M622.7 242.6H613.7L610.3 247.5L615 248.5L615.6 246.5L614.6 243.6" fill="none"/>
<path d="M825 205H845V214H825Z M832 239H845V243H832Z M825 243H845V266H825Z" fill="#B8DCFA" stroke="none"/>
<path d="M845.0 241.0C843.5 241.1 838.0 241.2 836.0 241.5C834.0 241.8 833.9 242.2 833.0 243.0C832.1 243.8 831.2 244.8 830.5 246.0C829.8 247.2 829.5 248.3 829.0 250.0C828.5 251.7 828.0 254.0 827.5 256.0C827.0 258.0 826.5 260.1 826.0 262.0C825.5 263.9 825.2 263.7 824.5 267.5C823.8 271.3 822.5 279.2 821.5 285.0C820.5 290.8 819.3 296.7 818.2 302.5C817.2 308.3 816.3 314.2 815.2 320.0C814.2 325.8 813.2 331.7 812.0 337.5C810.8 343.3 809.7 349.2 808.2 355.0C806.8 360.8 804.9 367.1 803.2 372.5C801.6 377.9 800.1 382.5 798.2 387.5C796.4 392.5 794.1 397.1 792.0 402.5C789.9 407.9 787.8 414.2 785.8 420.0C783.7 425.8 781.6 431.5 779.5 437.5C777.4 443.5 775.3 450.6 773.2 456.0C771.2 461.4 768.9 465.0 767.0 469.8C765.1 474.5 763.9 479.3 762.0 484.8C760.1 490.2 758.0 496.6 755.8 502.2C753.5 507.9 751.0 513.5 748.2 518.5C745.5 523.5 742.6 528.1 739.5 532.2C736.4 536.4 733.2 540.0 729.5 543.5C725.8 547.0 721.4 550.4 717.0 553.5C712.6 556.6 707.0 559.1 703.2 562.2C699.5 565.4 697.4 568.9 694.5 572.2C691.6 575.6 688.5 578.9 685.8 582.2C683.0 585.6 680.8 589.1 678.2 592.2C675.8 595.4 672.8 597.9 670.8 601.0C668.7 604.1 667.4 607.7 665.8 611.0C664.1 614.3 662.1 618.1 660.8 621.0C659.4 623.9 658.3 624.8 657.5 628.5C656.7 632.2 656.3 638.5 655.8 643.5C655.2 648.5 654.6 653.5 654.0 658.5C653.4 663.5 652.7 668.1 652.0 673.5C651.3 678.9 650.6 684.6 650.0 691.0C649.4 697.4 649.0 704.7 648.2 712.0C647.5 719.3 646.6 726.2 645.8 735.0C644.9 743.8 644.0 755.8 643.2 765.0C642.5 774.2 642.3 781.7 641.5 790.0C640.7 798.3 639.3 807.2 638.2 815.0C637.2 822.8 635.5 831.5 635.0 836.5C634.5 841.5 635.0 843.6 635.0 845.0L845.0 845.0Z" fill="#686868" stroke="none"/>
</g>
<rect x="93" y="209" width="744" height="628" fill="none" stroke="#000" stroke-width="2"/>
<path d="M173.5 210v10 M173.5 836v-10 M254.5 210v10 M254.5 836v-10 M335.5 210v10 M335.5 836v-10 M416.5 210v10 M416.5 836v-10 M497.5 210v20 M497.5 836v-20 M578.5 210v10 M578.5 836v-10 M659.5 210v10 M659.5 836v-10 M740.5 210v10 M740.5 836v-10 M821.5 210v10 M821.5 836v-10 M94 272.5h10 M836 272.5h-10 M94 334.5h10 M836 334.5h-10 M94 397.5h10 M836 397.5h-10 M94 460.5h10 M836 460.5h-10 M94 523.5h25 M836 523.5h-25 M94 585.5h10 M836 585.5h-10 M94 648.5h10 M836 648.5h-10 M94 711.5h10 M836 711.5h-10 M94 774.5h10 M836 774.5h-10" stroke="#000" stroke-width="1" fill="none"/>
<g shape-rendering="crispEdges">
<rect x="858" y="210.00" width="60" height="31.80" fill="#980000"/>
<rect x="858" y="241.30" width="60" height="31.80" fill="#C00000"/>
<rect x="858" y="272.60" width="60" height="31.80" fill="#E60000"/>
<rect x="858" y="303.90" width="60" height="31.80" fill="#FF3C0A"/>
<rect x="858" y="335.20" width="60" height="31.80" fill="#FF7840"/>
<rect x="858" y="366.50" width="60" height="31.80" fill="#FF9020"/>
<rect x="858" y="397.80" width="60" height="31.80" fill="#FFC000"/>
<rect x="858" y="429.10" width="60" height="31.80" fill="#F0FF64"/>
<rect x="858" y="460.40" width="60" height="31.80" fill="#BEFF5A"/>
<rect x="858" y="491.70" width="60" height="31.80" fill="#00EB00"/>
<rect x="858" y="523.00" width="60" height="31.80" fill="#00F58C"/>
<rect x="858" y="554.30" width="60" height="31.80" fill="#00F5D0"/>
<rect x="858" y="585.60" width="60" height="31.80" fill="#00FFFF"/>
<rect x="858" y="616.90" width="60" height="31.80" fill="#00DCFF"/>
<rect x="858" y="648.20" width="60" height="31.80" fill="#00BEFF"/>
<rect x="858" y="679.50" width="60" height="31.80" fill="#00A0FF"/>
<rect x="858" y="710.80" width="60" height="31.80" fill="#0078FF"/>
<rect x="858" y="742.10" width="60" height="31.80" fill="#0050FF"/>
<rect x="858" y="773.40" width="60" height="31.80" fill="#001EE6"/>
<rect x="858" y="804.70" width="60" height="31.80" fill="#0000C8"/>
<rect x="858" y="240" width="60" height="2" fill="#fff"/>
<rect x="858" y="272" width="60" height="2" fill="#fff"/>
<rect x="858" y="303" width="60" height="2" fill="#fff"/>
<rect x="858" y="334" width="60" height="2" fill="#fff"/>
<rect x="858" y="365" width="60" height="2" fill="#fff"/>
<rect x="858" y="397" width="60" height="2" fill="#fff"/>
<rect x="858" y="428" width="60" height="2" fill="#fff"/>
<rect x="858" y="459" width="60" height="2" fill="#fff"/>
<rect x="858" y="491" width="60" height="2" fill="#fff"/>
<rect x="858" y="522" width="60" height="2" fill="#fff"/>
<rect x="858" y="553" width="60" height="2" fill="#fff"/>
<rect x="858" y="585" width="60" height="2" fill="#fff"/>
<rect x="858" y="616" width="60" height="2" fill="#fff"/>
<rect x="858" y="647" width="60" height="2" fill="#fff"/>
<rect x="858" y="679" width="60" height="2" fill="#fff"/>
<rect x="858" y="710" width="60" height="2" fill="#fff"/>
<rect x="858" y="741" width="60" height="2" fill="#fff"/>
<rect x="858" y="772" width="60" height="2" fill="#fff"/>
<rect x="858" y="804" width="60" height="2" fill="#fff"/>
<rect x="857" y="209" width="62" height="628" fill="none" stroke="#000" stroke-width="2"/>
</g>
<g class="t">
<text x="245.0 262.9 280.9 298.8 316.7 334.6 352.6 370.5 388.4 406.4 424.3 442.2 460.2 478.1 496.0 514.0 531.9 549.8 567.7 585.7 603.6 621.5 639.5 657.4 675.3 693.2 711.2 729.1 747.0 765.0 782.9" y="132.3" font-size="27.0">Salinity out of point Ano Nuevo</text>
<text x="120.6 138.5 156.4 174.3 192.2 210.1 228.0" y="172.2" font-size="26.5">36.70 N</text>
<text x="102.7 120.6 138.5 156.4 174.3 192.2 210.1 228.0" y="200.4" font-size="26.5">123.23 W</text>
<text x="720.3 738.2 756.1 774.0 791.9 809.8 827.7" y="172.2" font-size="26.5">37.11 N</text>
<text x="702.4 720.3 738.2 756.1 774.0 791.9 809.8 827.7" y="200.4" font-size="26.5">122.33 W</text>
<text x="7.2 24.6" y="218.1" font-size="27.0">0<tspan font-size="20.5" style="stroke-width:.4">m</tspan></text>
<text x="24.0 42.6 61.2" y="532.3" font-size="27.0">100</text>
<text x="24.0 42.6 61.2" y="846.3" font-size="27.0">200</text>
<text x="105.4 130.6 155.8 181.0" y="875.1" font-size="36.5" style="stroke-width:1.5">0 k<tspan font-size="29" style="stroke-width:.6">m</tspan></text>
<text x="498.0 522.5" y="875.1" font-size="36.5" style="stroke-width:1.5">50</text>
<text x="274.9 292.9 311.0 329.0 347.1 365.1 383.2 401.2 419.3 437.4 455.4 473.4 491.5 509.5 527.6 545.6 563.7 581.8 599.8 617.8 635.9 654.0" y="897.1" font-size="26.8">12:00:00Z   5 Aug 2006</text>
<text x="934.4 953.6 972.8 992.0 1011.2" y="250.0" font-size="28.5">34.14</text>
<text x="934.4 953.6 972.8 992.0 1011.2" y="281.3" font-size="28.5">34.08</text>
<text x="934.4 953.6 972.8 992.0 1011.2" y="312.6" font-size="28.5">34.02</text>
<text x="934.4 953.6 972.8 992.0 1011.2" y="343.9" font-size="28.5">33.96</text>
<text x="934.4 953.6 972.8 992.0 1011.2" y="375.2" font-size="28.5">33.90</text>
<text x="934.4 953.6 972.8 992.0 1011.2" y="406.5" font-size="28.5">33.84</text>
<text x="934.4 953.6 972.8 992.0 1011.2" y="437.8" font-size="28.5">33.78</text>
<text x="934.4 953.6 972.8 992.0 1011.2" y="469.1" font-size="28.5">33.72</text>
<text x="934.4 953.6 972.8 992.0 1011.2" y="500.4" font-size="28.5">33.66</text>
<text x="934.4 953.6 972.8 992.0 1011.2" y="531.7" font-size="28.5">33.60</text>
<text x="934.4 953.6 972.8 992.0 1011.2" y="563.0" font-size="28.5">33.54</text>
<text x="934.4 953.6 972.8 992.0 1011.2" y="594.3" font-size="28.5">33.48</text>
<text x="934.4 953.6 972.8 992.0 1011.2" y="625.6" font-size="28.5">33.42</text>
<text x="934.4 953.6 972.8 992.0 1011.2" y="656.9" font-size="28.5">33.36</text>
<text x="934.4 953.6 972.8 992.0 1011.2" y="688.2" font-size="28.5">33.30</text>
<text x="934.4 953.6 972.8 992.0 1011.2" y="719.5" font-size="28.5">33.24</text>
<text x="934.4 953.6 972.8 992.0 1011.2" y="750.8" font-size="28.5">33.18</text>
<text x="934.4 953.6 972.8 992.0 1011.2" y="782.1" font-size="28.5">33.12</text>
<text x="934.4 953.6 972.8 992.0 1011.2" y="813.4" font-size="28.5">33.06</text>
</g>
</svg>
</body></html>
